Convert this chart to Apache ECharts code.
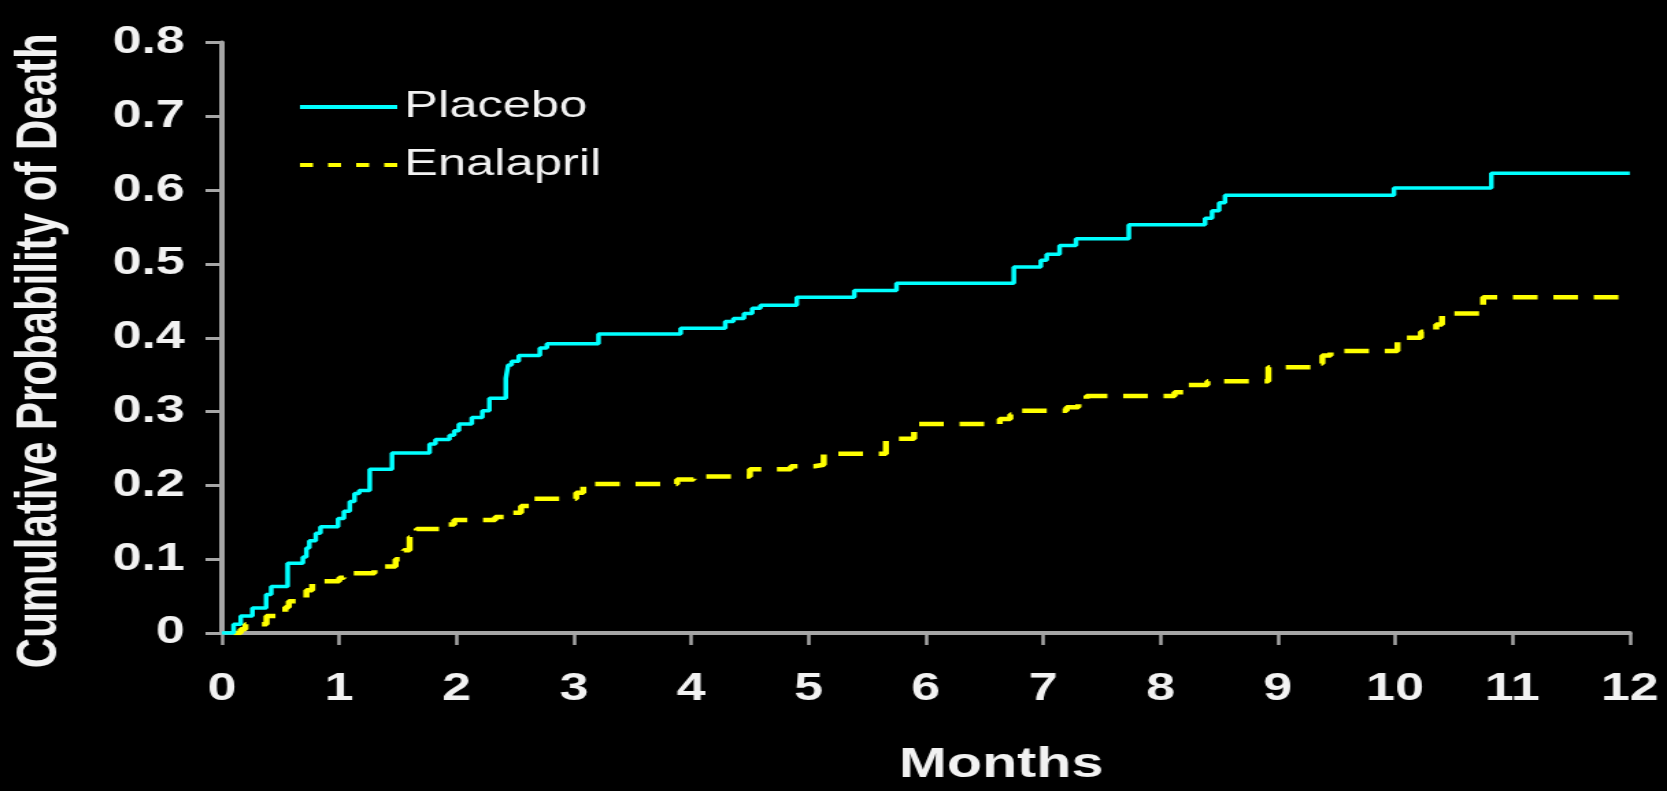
<!DOCTYPE html>
<html>
<head>
<meta charset="utf-8">
<script src="https://cdn.jsdelivr.net/npm/echarts/dist/echarts.min.js"></script>
<style>
  html, body { margin: 0; padding: 0; background: #000; overflow: hidden; }
  /* the slide artwork is wide-set: draw at 1217px and stretch horizontally to 1667px */
  #chart { width: 1217px; height: 791px; transform: scaleX(1.36976); transform-origin: 0 0; }
</style>
</head>
<body>
<div id="chart"></div>
<script>
// Kaplan-Meier style cumulative probability of death (step changes at each month value)
const placeboMonths = [0, 0.065, 0.10, 0.16, 0.26, 0.377, 0.42, 0.56, 0.69, 0.72, 0.745, 0.80, 0.84,
  0.99, 1.04, 1.09, 1.13, 1.17, 1.26, 1.45, 1.77, 1.82, 1.94, 1.98, 2.02, 2.13, 2.22, 2.28, 2.42,
  2.44, 2.47, 2.53, 2.71, 2.77, 3.21, 3.91, 4.29, 4.36, 4.45, 4.52, 4.59, 4.90, 5.39, 5.75, 6.75,
  6.98, 7.03, 7.14, 7.28, 7.73, 8.38, 8.44, 8.50, 8.55, 9.99, 10.82, 12];
const placeboProb = [0, 0, 0.012, 0.023, 0.034, 0.052, 0.063, 0.0945, 0.103, 0.115, 0.125, 0.135, 0.144,
  0.155, 0.165, 0.178, 0.189, 0.193, 0.222, 0.244, 0.256, 0.262, 0.268, 0.274, 0.283, 0.292, 0.301, 0.318, 0.345,
  0.363, 0.368, 0.376, 0.386, 0.392, 0.405, 0.413, 0.422, 0.426, 0.433, 0.44, 0.444, 0.455, 0.464, 0.474, 0.496,
  0.505, 0.513, 0.525, 0.534, 0.553, 0.562, 0.572, 0.583, 0.593, 0.603, 0.623, 0.623];

const enalaprilMonths = [0.10, 0.16, 0.20, 0.38, 0.54, 0.57, 0.72, 0.77, 1.00, 1.04, 1.30, 1.37, 1.48,
  1.55, 1.60, 1.66, 1.88, 1.98, 2.33, 2.45, 2.55, 2.64, 3.02, 3.08, 3.88, 4.02, 4.50, 4.85, 5.05, 5.13,
  5.66, 5.90, 6.63, 6.72, 6.80, 7.20, 7.30, 7.37, 8.12, 8.22, 8.40, 8.92, 9.30, 9.38, 9.45, 10.02,
  10.22, 10.35, 10.40, 10.75, 12];
const enalaprilProb = [0, 0.005, 0.012, 0.023, 0.035, 0.043, 0.058, 0.07, 0.075, 0.081, 0.085, 0.09, 0.10,
  0.112, 0.13, 0.141, 0.147, 0.153, 0.157, 0.163, 0.172, 0.182, 0.19, 0.202, 0.208, 0.212, 0.222, 0.226, 0.228, 0.243,
  0.263, 0.283, 0.29, 0.296, 0.301, 0.306, 0.313, 0.321, 0.326, 0.336, 0.341, 0.36, 0.365, 0.376, 0.382, 0.40,
  0.408, 0.418, 0.433, 0.455, 0.455];

const seriesNames = ['Placebo', 'Enalapril'];
const xTitle = 'Months';
const yTitle = 'Cumulative Probability of Death';

const toPairs = (xs, ys) => xs.map((x, i) => [x, ys[i]]);

const AXIS_GREY = '#a6a6a6';
const TEXT = '#f2f2f2';
const FONT = "'Liberation Sans', Arial, sans-serif";

const chart = echarts.init(document.getElementById('chart'));
chart.setOption({
  backgroundColor: '#000000',
  animation: false,
  grid: { left: 160, right: 27.2, top: 42.5, bottom: 154, containLabel: false },
  legend: {
    orient: 'vertical',
    left: 219,
    top: 85,
    padding: 0,
    itemWidth: 71,
    itemHeight: 4,
    itemGap: 14,
    selectedMode: false,
    textStyle: { color: TEXT, fontSize: 37, fontFamily: FONT, lineHeight: 44 },
    data: [
      { name: seriesNames[0], icon: 'path://M0,0H71V4H0Z' },
      { name: seriesNames[1], icon: 'path://M0,0H9.5V4H0Z M20.5,0H30V4H20.5Z M41,0H50.5V4H41Z M61.5,0H71V4H61.5Z' }
    ]
  },
  xAxis: {
    type: 'value',
    min: 0,
    max: 12,
    interval: 1,
    name: xTitle,
    nameLocation: 'middle',
    nameGap: 111,
    nameTextStyle: { color: TEXT, fontSize: 42, fontWeight: 'bold', fontFamily: FONT, padding: [0, 0, 0, 110] },
    axisLine: { show: true, onZero: false, lineStyle: { color: AXIS_GREY, width: 4 } },
    axisTick: { show: true, inside: false, length: 12, lineStyle: { color: AXIS_GREY, width: 2.5 } },
    axisLabel: { color: TEXT, fontSize: 38, fontWeight: 'bold', fontFamily: FONT, margin: 38 },
    splitLine: { show: false }
  },
  yAxis: {
    type: 'value',
    min: 0,
    max: 0.8,
    interval: 0.1,
    name: yTitle,
    nameLocation: 'middle',
    nameGap: 112,
    nameRotate: 90,
    nameTextStyle: { color: TEXT, fontSize: 42, fontWeight: 'bold', fontFamily: FONT, padding: [0, 26, 0, 0] },
    axisLine: { show: true, lineStyle: { color: AXIS_GREY, width: 4 } },
    axisTick: { show: true, inside: false, length: 12, lineStyle: { color: AXIS_GREY, width: 3 } },
    axisLabel: { color: TEXT, fontSize: 38, fontWeight: 'bold', fontFamily: FONT, margin: 27,
      formatter: v => (Math.round(v * 10) / 10).toString() },
    splitLine: { show: false }
  },
  series: [
    {
      name: seriesNames[0],
      type: 'line',
      step: 'end',
      symbol: 'none',
      data: toPairs(placeboMonths, placeboProb),
      itemStyle: { color: '#00ffff' },
      lineStyle: { color: '#00ffff', width: 3.5 },
      z: 3
    },
    {
      name: seriesNames[1],
      type: 'line',
      step: 'end',
      symbol: 'none',
      data: toPairs(enalaprilMonths, enalaprilProb),
      itemStyle: { color: '#ffff00' },
      lineStyle: { color: '#ffff00', width: 4.5, type: [18, 11.5] },
      z: 2
    }
  ]
});
</script>
</body>
</html>
